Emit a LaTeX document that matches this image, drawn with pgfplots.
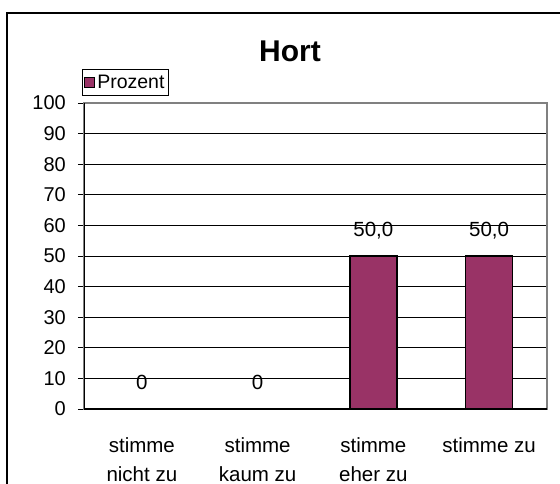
\documentclass[border=0pt]{standalone}
\usepackage{fontspec}
\setmainfont{Liberation Sans}
\usepackage{pgfplots}
\pgfplotsset{compat=1.18}
\definecolor{barc}{HTML}{993366}
\definecolor{frgray}{HTML}{808080}
\begin{document}
\begin{tikzpicture}[x=1pt,y=1pt]
\useasboundingbox (0,0) rectangle (560,483);
\clip (0,0) rectangle (560,483);
\draw[line width=1.3pt] (7,-20) -- (7,470) -- (600,470);
\node[anchor=base, font={\fontsize{30}{34}\selectfont\bfseries}, inner sep=0pt] at (290,421) {Hort};
\begin{axis}[
  at={(84pt,74pt)}, anchor=south west,
  scale only axis, width=463pt, height=306pt,
  xmin=0.5, xmax=4.5, ymin=0, ymax=100,
  ytick={0,10,...,100},
  xtick={1,2,3,4},
  xticklabels={{stimme\\nicht zu},{stimme\\kaum zu},{stimme\\eher zu},{stimme zu}},
  major x tick style={draw=none},
  extra x ticks={0.5,1.5,2.5,3.5,4.5},
  extra x tick labels={},
  extra x tick style={grid=none, major tick length=6pt, tick style={draw=black, line width=0.8pt}, tick align=outside},
  ymajorgrids, grid style={black, line width=0.7pt},
  y tick style={draw=black, line width=0.8pt}, major tick length=6pt, tick align=outside,
  tick pos=left,
  axis line style={draw=frgray, line width=1.6pt},
  /pgf/number format/assume math mode=true,
  yticklabel style={anchor=east, inner sep=0pt, xshift=-12pt, font={\fontsize{20}{24}\selectfont}},
  xticklabel style={anchor=north, inner sep=0pt, yshift=-22pt, align=center, font={\fontsize{20.5}{29}\selectfont}},
  legend style={at={(axis description cs:-0.0043,1.023)}, anchor=south west, draw=black, line width=0.6pt,
    font={\fontsize{19.5}{22}\selectfont}, inner xsep=2pt, inner ysep=3.5pt},
  ybar, bar width=47pt,
  nodes near coords, point meta=explicit symbolic,
  every node near coord/.append style={anchor=base, yshift=19.5pt, font={\fontsize{20.5}{24}\selectfont}, black},
]
\addplot[fill=barc, draw=black, line width=1.4pt,
  legend image code/.code={\draw[fill=barc, draw=black, line width=1pt] (0pt,-5pt) rectangle (10pt,5pt);}]
  coordinates {(1,0) [0] (2,0) [0] (3,50) [50,0] (4,50) [50,0]};
\addlegendentry{Prozent}
\draw[black, line width=1.2pt] (rel axis cs:0,0) -- (rel axis cs:0,1);
\draw[black, line width=1.2pt] (rel axis cs:0,0) -- (rel axis cs:1,0);
\end{axis}
\end{tikzpicture}
\end{document}
